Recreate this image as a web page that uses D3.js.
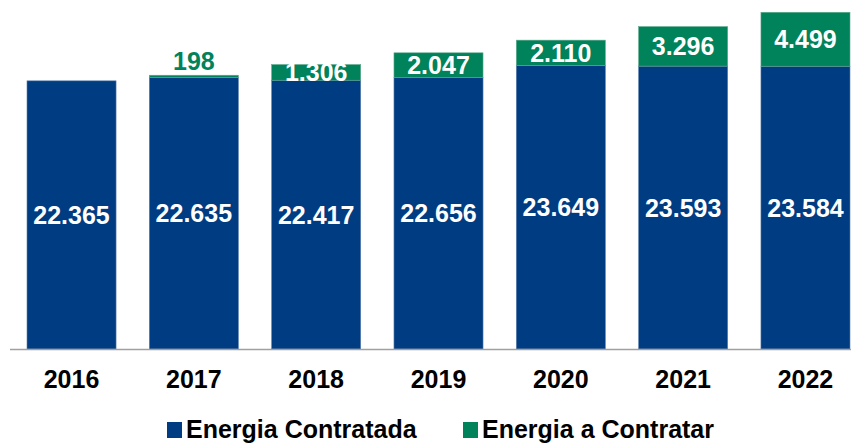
<!DOCTYPE html>
<html>
<head>
<meta charset="utf-8">
<script src="https://cdn.jsdelivr.net/npm/d3@7"></script>
<style>
  body { margin: 0; background: #fff; }
  text { font-family: "Liberation Sans", Arial, sans-serif; font-weight: bold; }
</style>
</head>
<body>
<svg id="chart"></svg>
<script>
const years = ['2016', '2017', '2018', '2019', '2020', '2021', '2022'];
const contratada = [22365, 22635, 22417, 22656, 23649, 23593, 23584];
const aContratar = [0, 198, 1306, 2047, 2110, 3296, 4499];
const seriesNames = ['Energia Contratada', 'Energia a Contratar'];
const colors = ['#003c82', '#00825a'];

const width = 853, height = 443;
const baseY = 349;

const fmt = v => d3.format(',')(v).replace(/,/g, '.');

const svg = d3.select('#chart')
    .attr('width', width)
    .attr('height', height);

const x = d3.scaleBand()
    .domain(years)
    .range([10, 867])
    .paddingInner(0.272)
    .paddingOuter(0.139);

const y = d3.scaleLinear()
    .domain([0, 29000])
    .range([baseY, baseY - 29000 * 0.01199]);

const rows = years.map((yr, i) => ({year: yr, c: contratada[i], a: aContratar[i]}));

// blue part
svg.selectAll('.bar-c')
    .data(rows)
  .join('rect')
    .attr('class', 'bar-c')
    .attr('x', d => x(d.year))
    .attr('width', x.bandwidth())
    .attr('y', d => y(d.c))
    .attr('height', d => y(0) - y(d.c))
    .attr('fill', colors[0])
    .attr('stroke', '#5a7fae')
    .attr('stroke-width', 0.6);

// green part
svg.selectAll('.bar-a')
    .data(rows.filter(d => d.a > 0))
  .join('rect')
    .attr('class', 'bar-a')
    .attr('x', d => x(d.year))
    .attr('width', x.bandwidth())
    .attr('y', d => y(d.c + d.a))
    .attr('height', d => y(d.c) - y(d.c + d.a))
    .attr('fill', colors[1])
    .attr('stroke', '#5fa98c')
    .attr('stroke-width', 0.6);

// labels inside blue
svg.selectAll('.lbl-c')
    .data(rows)
  .join('text')
    .attr('class', 'lbl-c')
    .attr('x', d => x(d.year) + x.bandwidth() / 2)
    .attr('y', d => (y(d.c) + y(0)) / 2)
    .attr('dy', '0.36em')
    .attr('text-anchor', 'middle')
    .attr('fill', '#fff')
    .style('font-size', '25px')
    .text(d => fmt(d.c));

// labels for green
svg.selectAll('.lbl-a')
    .data(rows.filter(d => d.a > 0))
  .join('text')
    .attr('class', 'lbl-a')
    .attr('x', d => x(d.year) + x.bandwidth() / 2)
    .attr('y', d => d.a < 500 ? y(d.c + d.a) - 14 : (y(d.c) + y(d.c + d.a)) / 2)
    .attr('dy', '0.36em')
    .attr('text-anchor', 'middle')
    .attr('fill', d => d.a < 500 ? colors[1] : '#fff')
    .style('font-size', '25px')
    .text(d => fmt(d.a));

// baseline
svg.append('line')
    .attr('x1', 10).attr('x2', 851)
    .attr('y1', baseY + 0.5).attr('y2', baseY + 0.5)
    .attr('stroke', '#a0a0a0')
    .attr('stroke-width', 1.5);

// x axis labels
const xAxis = d3.axisBottom(x).tickSize(0).tickPadding(0);
svg.append('g')
    .attr('transform', `translate(0,${baseY})`)
    .call(xAxis)
    .call(g => g.select('.domain').remove())
    .call(g => g.selectAll('text')
        .attr('y', 0)
        .attr('dy', 0)
        .attr('transform', 'translate(0,39)')
        .attr('fill', '#000')
        .style('font-size', '25px')
        .style('font-family', '"Liberation Sans", Arial, sans-serif')
        .style('font-weight', 'bold'));

// legend
const legendX = [167, 463];
const legend = svg.selectAll('.legend')
    .data(seriesNames)
  .join('g')
    .attr('class', 'legend')
    .attr('transform', (d, i) => `translate(${legendX[i]},422)`);

legend.append('rect')
    .attr('width', 15)
    .attr('height', 16)
    .attr('fill', (d, i) => colors[i]);

legend.append('text')
    .attr('x', 19)
    .attr('y', 16)
    .attr('fill', '#000')
    .style('font-size', '25px')
    .text(d => d);
</script>
</body>
</html>
